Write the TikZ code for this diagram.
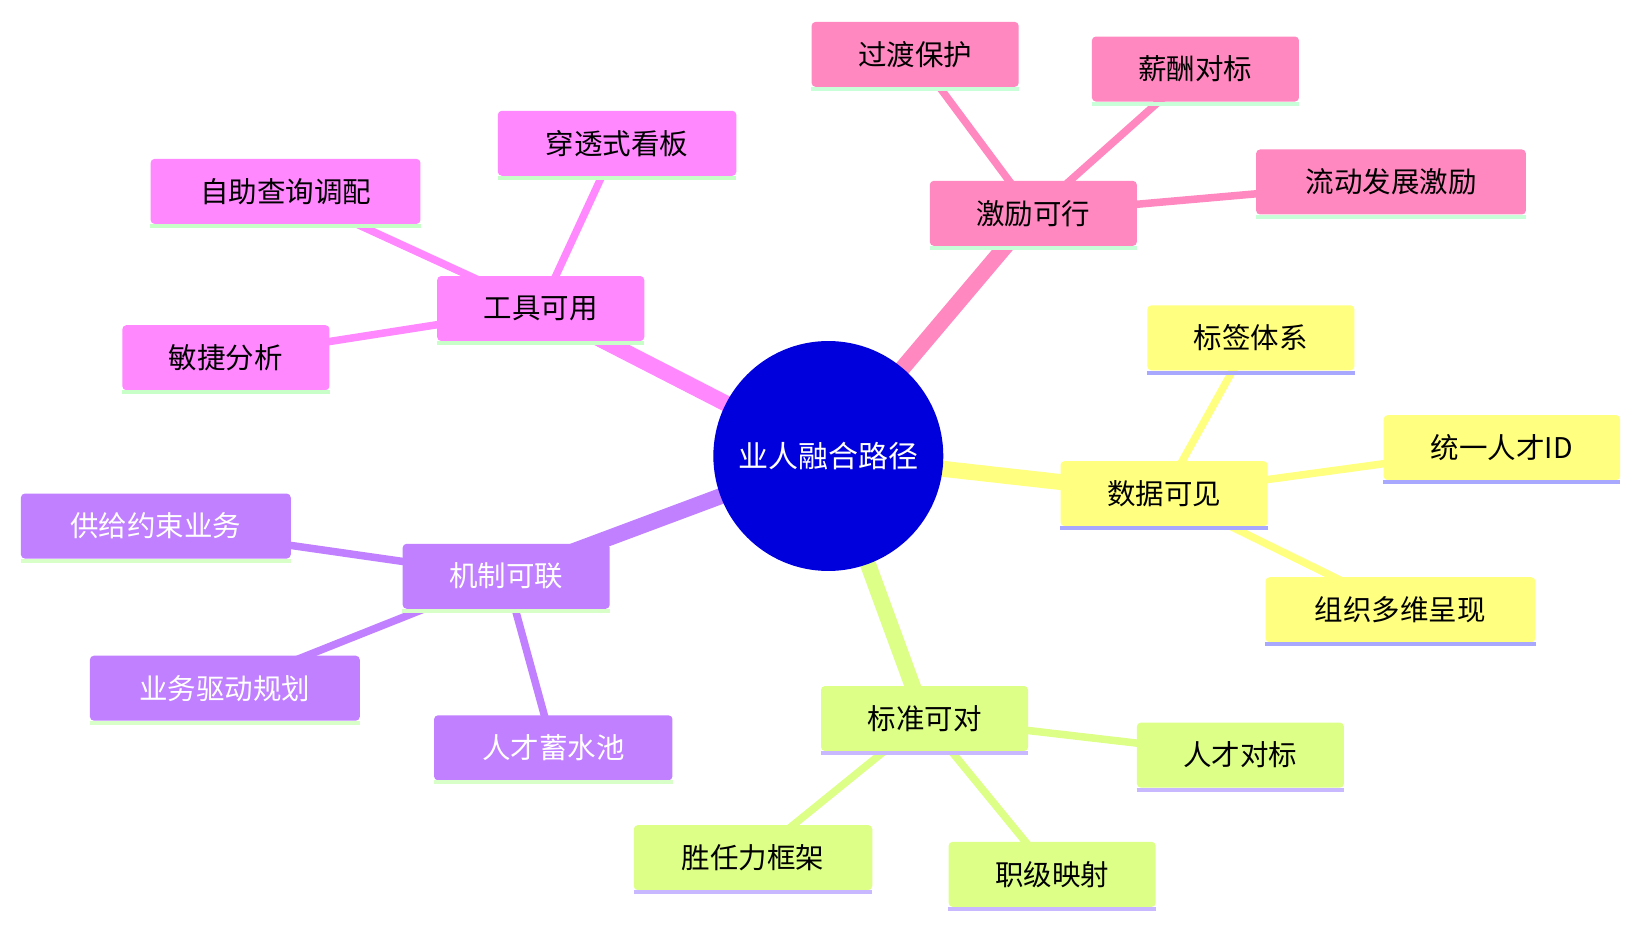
\documentclass[tikz,border=0pt]{standalone}
\usepackage{fontspec}
\setmainfont{Noto Sans CJK SC}
\newcommand\bx[5]{\node[box,fill=#3,minimum width=#4*1.046pt] (#1) at (#2) {#5};
  \draw[#3u,line width=4pt] ([yshift=-2pt]#1.south west)--([yshift=-2pt]#1.south east);}
\begin{document}
\begin{tikzpicture}[x=1.046pt,y=-1.046pt,
  box/.style={rectangle,rounded corners=4pt,minimum height=65pt,inner sep=0pt,font=\fontsize{28.5}{33}\selectfont},
  root/.style={circle,fill=rootc,minimum size=230pt,text=white,font=\fontsize{30}{35}\selectfont},
  thick line/.style={line width=16pt},
  thin line/.style={line width=7.5pt}]
\definecolor{rootc}{HTML}{0000DD}
\definecolor{pk}{HTML}{FF88C0}\definecolor{pku}{HTML}{C8FFD8}
\definecolor{mg}{HTML}{FF88FF}\definecolor{mgu}{HTML}{C8FFC8}
\definecolor{yl}{HTML}{FFFF80}\definecolor{ylu}{HTML}{A8A8FF}
\definecolor{gr}{HTML}{DDFF88}\definecolor{gru}{HTML}{C8B8FF}
\definecolor{pu}{HTML}{C080FF}\definecolor{puu}{HTML}{D8FFC8}
\fill[white] (0,0) rectangle (1570,888);
\coordinate (R) at (792,436);
\coordinate (A) at (988,204);\coordinate (A1) at (875,52);\coordinate (A2) at (1143,66);\coordinate (A3) at (1330,174);
\coordinate (B) at (517,295);\coordinate (B1) at (590,137);\coordinate (B2) at (273,183);\coordinate (B3) at (216,342);
\coordinate (C) at (1113,472);\coordinate (C1) at (1196,323);\coordinate (C2) at (1436,428);\coordinate (C3) at (1339,583);
\coordinate (D) at (884,687);\coordinate (D1) at (1186,722);\coordinate (D2) at (720,820);\coordinate (D3) at (1006,836);
\coordinate (E) at (484,551);\coordinate (E1) at (149,503);\coordinate (E2) at (215,658);\coordinate (E3) at (529,715);
\draw[thick line,pk] (R)--(A); \draw[thin line,pk] (A)--(A1) (A)--(A2) (A)--(A3);
\draw[thick line,mg] (R)--(B); \draw[thin line,mg] (B)--(B1) (B)--(B2) (B)--(B3);
\draw[thick line,yl] (R)--(C); \draw[thin line,yl] (C)--(C1) (C)--(C2) (C)--(C3);
\draw[thick line,gr] (R)--(D); \draw[thin line,gr] (D)--(D1) (D)--(D2) (D)--(D3);
\draw[thick line,pu] (R)--(E); \draw[thin line,pu] (E)--(E1) (E)--(E2) (E)--(E3);
\bx{a}{A}{pk}{198}{激励可行}\bx{a1}{A1}{pk}{198}{过渡保护}\bx{a2}{A2}{pk}{198}{薪酬对标}\bx{a3}{A3}{pk}{258}{流动发展激励}
\bx{b}{B}{mg}{198}{工具可用}\bx{b1}{B1}{mg}{228}{穿透式看板}\bx{b2}{B2}{mg}{258}{自助查询调配}\bx{b3}{B3}{mg}{198}{敏捷分析}
\bx{c}{C}{yl}{198}{数据可见}\bx{c1}{C1}{yl}{198}{标签体系}\bx{c2}{C2}{yl}{226}{统一人才ID}\bx{c3}{C3}{yl}{258}{组织多维呈现}
\bx{d}{D}{gr}{198}{标准可对}\bx{d1}{D1}{gr}{198}{人才对标}\bx{d2}{D2}{gr}{228}{胜任力框架}\bx{d3}{D3}{gr}{198}{职级映射}
\bx{e}{E}{pu}{198}{\color{white}机制可联}\bx{e1}{E1}{pu}{258}{\color{white}供给约束业务}\bx{e2}{E2}{pu}{258}{\color{white}业务驱动规划}\bx{e3}{E3}{pu}{228}{\color{white}人才蓄水池}
\node[root] (r) at (R) {业人融合路径};
\pgfresetboundingbox
\useasboundingbox (0,0) rectangle (1570,888);
\end{tikzpicture}
\end{document}
